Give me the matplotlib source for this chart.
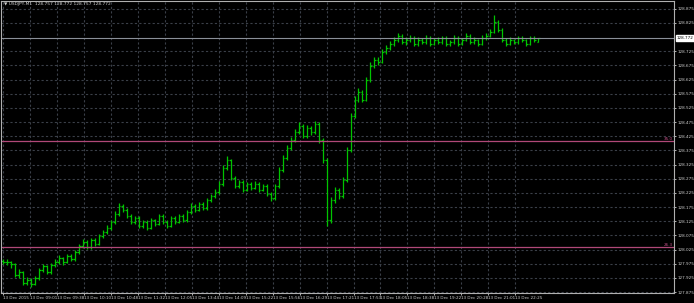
import numpy as np
import matplotlib
matplotlib.use("Agg")
import matplotlib.pyplot as plt

# бары USDJPY M1 (open, high, low, close)
opens = [127.985, 127.981, 127.981, 127.974, 127.935, 127.946, 127.907, 127.917, 127.903, 127.924,
         127.953, 127.967, 127.946, 127.970, 127.981, 127.995, 127.981, 128.002, 127.992, 128.016,
         128.038, 128.052, 128.034, 128.059, 128.045, 128.073, 128.087, 128.101, 128.122, 128.151,
         128.179, 128.165, 128.144, 128.122, 128.137, 128.108, 128.122, 128.101, 128.129, 128.115,
         128.144, 128.122, 128.108, 128.137, 128.122, 128.144, 128.129, 128.158, 128.179, 128.165,
         128.186, 128.172, 128.200, 128.214, 128.228, 128.257, 128.313, 128.341, 128.278, 128.250,
         128.264, 128.235, 128.257, 128.243, 128.257, 128.235, 128.250, 128.221, 128.207, 128.250,
         128.306, 128.349, 128.384, 128.412, 128.440, 128.462, 128.426, 128.455, 128.440, 128.469,
         128.412, 128.341, 128.129, 128.200, 128.235, 128.214, 128.271, 128.377, 128.497, 128.553,
         128.582, 128.553, 128.624, 128.674, 128.695, 128.688, 128.723, 128.737, 128.751, 128.765,
         128.780, 128.758, 128.765, 128.773, 128.751, 128.765, 128.758, 128.773, 128.751, 128.765,
         128.758, 128.773, 128.751, 128.758, 128.773, 128.751, 128.765, 128.780, 128.758, 128.765,
         128.751, 128.773, 128.780, 128.794, 128.829, 128.801, 128.765, 128.751, 128.765, 128.758,
         128.773, 128.765, 128.751, 128.773, 128.757]
highs = [127.992, 127.990, 127.985, 127.978, 127.955, 127.950, 127.928, 127.924, 127.932, 127.960,
         127.975, 127.972, 127.978, 127.990, 128.004, 128.000, 128.010, 128.008, 128.024, 128.046,
         128.062, 128.058, 128.066, 128.064, 128.080, 128.095, 128.110, 128.130, 128.160, 128.190,
         128.186, 128.170, 128.150, 128.145, 128.142, 128.130, 128.128, 128.136, 128.134, 128.152,
         128.150, 128.128, 128.145, 128.142, 128.152, 128.150, 128.165, 128.188, 128.185, 128.194,
         128.192, 128.208, 128.222, 128.238, 128.266, 128.322, 128.355, 128.346, 128.285, 128.272,
         128.270, 128.264, 128.262, 128.266, 128.262, 128.258, 128.255, 128.228, 128.258, 128.315,
         128.360, 128.395, 128.424, 128.452, 128.474, 128.470, 128.466, 128.462, 128.480, 128.474,
         128.418, 128.348, 128.212, 128.245, 128.242, 128.280, 128.388, 128.508, 128.566, 128.594,
         128.590, 128.636, 128.686, 128.706, 128.704, 128.734, 128.748, 128.762, 128.776, 128.790,
         128.786, 128.774, 128.784, 128.780, 128.774, 128.772, 128.782, 128.778, 128.772, 128.774,
         128.780, 128.778, 128.766, 128.782, 128.778, 128.772, 128.788, 128.785, 128.774, 128.770,
         128.782, 128.790, 128.805, 128.855, 128.836, 128.806, 128.772, 128.774, 128.770, 128.780,
         128.778, 128.770, 128.780, 128.778, 128.772]
lows = [127.974, 127.972, 127.960, 127.928, 127.925, 127.900, 127.898, 127.893, 127.898, 127.918,
        127.945, 127.938, 127.940, 127.962, 127.975, 127.972, 127.976, 127.984, 127.986, 128.010,
        128.030, 128.026, 128.028, 128.036, 128.040, 128.066, 128.080, 128.095, 128.116, 128.145,
        128.156, 128.136, 128.114, 128.115, 128.100, 128.102, 128.094, 128.096, 128.108, 128.110,
        128.115, 128.100, 128.104, 128.114, 128.118, 128.122, 128.124, 128.152, 128.158, 128.160,
        128.164, 128.166, 128.194, 128.206, 128.222, 128.250, 128.305, 128.270, 128.242, 128.244,
        128.228, 128.230, 128.236, 128.238, 128.228, 128.230, 128.214, 128.196, 128.200, 128.244,
        128.300, 128.342, 128.378, 128.405, 128.432, 128.418, 128.420, 128.430, 128.434, 128.402,
        128.330, 128.108, 128.120, 128.190, 128.205, 128.208, 128.265, 128.370, 128.490, 128.545,
        128.545, 128.548, 128.618, 128.666, 128.678, 128.682, 128.716, 128.730, 128.744, 128.758,
        128.750, 128.748, 128.758, 128.744, 128.744, 128.750, 128.752, 128.744, 128.746, 128.750,
        128.752, 128.742, 128.744, 128.752, 128.744, 128.746, 128.760, 128.750, 128.752, 128.744,
        128.746, 128.766, 128.774, 128.790, 128.794, 128.758, 128.744, 128.746, 128.750, 128.752,
        128.758, 128.744, 128.746, 128.758, 128.757]
closes = [127.981, 127.981, 127.974, 127.935, 127.946, 127.907, 127.917, 127.903, 127.924, 127.953,
          127.967, 127.946, 127.970, 127.981, 127.995, 127.981, 128.002, 127.992, 128.016, 128.038,
          128.052, 128.034, 128.059, 128.045, 128.073, 128.087, 128.101, 128.122, 128.151, 128.179,
          128.165, 128.144, 128.122, 128.137, 128.108, 128.122, 128.101, 128.129, 128.115, 128.144,
          128.122, 128.108, 128.137, 128.122, 128.144, 128.129, 128.158, 128.179, 128.165, 128.186,
          128.172, 128.200, 128.214, 128.228, 128.257, 128.313, 128.341, 128.278, 128.250, 128.264,
          128.235, 128.257, 128.243, 128.257, 128.235, 128.250, 128.221, 128.207, 128.250, 128.306,
          128.349, 128.384, 128.412, 128.440, 128.462, 128.426, 128.455, 128.440, 128.469, 128.412,
          128.341, 128.129, 128.200, 128.235, 128.214, 128.271, 128.377, 128.497, 128.553, 128.582,
          128.553, 128.624, 128.674, 128.695, 128.688, 128.723, 128.737, 128.751, 128.765, 128.780,
          128.758, 128.765, 128.773, 128.751, 128.765, 128.758, 128.773, 128.751, 128.765, 128.758,
          128.773, 128.751, 128.758, 128.773, 128.751, 128.765, 128.780, 128.758, 128.765, 128.751,
          128.773, 128.780, 128.794, 128.829, 128.801, 128.765, 128.751, 128.765, 128.758, 128.773,
          128.765, 128.751, 128.773, 128.765, 128.772]

price_ticks = [127.875, 127.925, 127.975, 128.025, 128.075, 128.125, 128.175, 128.225, 128.275,
               128.325, 128.375, 128.425, 128.475, 128.525, 128.575, 128.625, 128.675, 128.725,
               128.825, 128.875]
time_labels = ["13 Dec 2015", "13 Dec 09:01", "13 Dec 09:38", "13 Dec 10:10", "13 Dec 10:48",
               "13 Dec 11:32", "13 Dec 12:05", "13 Dec 13:44", "13 Dec 14:09", "13 Dec 15:22",
               "13 Dec 15:56", "13 Dec 16:29", "13 Dec 17:21", "13 Dec 17:53", "13 Dec 18:05",
               "13 Dec 18:38", "13 Dec 19:22", "13 Dec 20:28", "13 Dec 21:01", "13 Dec 22:25"]
bid = 128.772
levels = [128.409, 128.034]
level_names = ["35.0", "26.3"]
header = "USDJPY,M1  128.757 128.772 128.757 128.772"

fg = "#d0d0d0"
grid_c = "#3a3f48"
bar_c = "#00c400"

fig = plt.figure(figsize=(6.94, 3.03), dpi=100, facecolor="black")
ax = fig.add_axes([0.0015, 0.033, 0.9697, 0.964], facecolor="black")

x = np.arange(len(closes))
ax.vlines(x, lows, highs, color=bar_c, lw=0.9)
ax.hlines(opens, x - 0.4, x, color=bar_c, lw=0.9)
ax.hlines(closes, x, x + 0.4, color=bar_c, lw=0.9)

ax.set_xlim(-0.5, 168.0)
ax.set_ylim(127.8715, 128.903)

# сетка
ax.set_yticks(price_ticks)
ax.set_yticklabels(["%.3f" % p for p in price_ticks])
ax.set_xticks(np.arange(len(time_labels)) * 6.75)
ax.set_xticklabels(time_labels, ha="left")
ax.grid(True, color=grid_c, ls=(0, (2, 2)), lw=0.8)
ax.set_axisbelow(True)

ax.yaxis.tick_right()
ax.tick_params(axis="y", colors=fg, labelsize=3, length=1.5, pad=1, width=0.6)
ax.tick_params(axis="x", colors=fg, labelsize=3, length=1.5, pad=0.5, width=0.6)
for s in ax.spines.values():
    s.set_color("#b0b0b0")
    s.set_linewidth(0.8)

# линия bid и метка
ax.axhline(bid, color="#8a8f98", lw=0.8)
ax.text(1.004, bid, "%.3f" % bid, transform=ax.get_yaxis_transform(), fontsize=3,
        color="black", va="center", ha="left",
        bbox=dict(boxstyle="square,pad=0.15", fc="white", ec="white"))

# горизонтальные уровни
for lv, name in zip(levels, level_names):
    ax.axhline(lv, color="#b04878", lw=0.9)
    ax.text(0.998, lv, name, transform=ax.get_yaxis_transform(), fontsize=3,
            color="#c05088", va="bottom", ha="right")

ax.text(0.004, 0.995, "\u25bc " + header, transform=ax.transAxes, fontsize=3.2,
        color=fg, va="top", ha="left")

fig.savefig("out.png", dpi=100, facecolor="black")
